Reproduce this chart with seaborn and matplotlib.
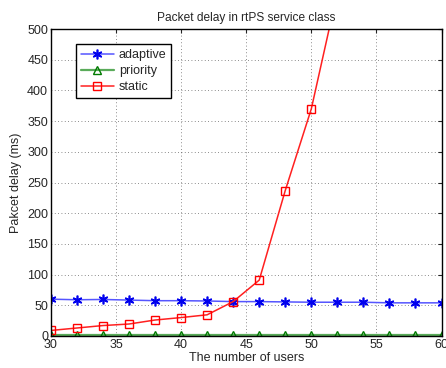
import numpy as np
import pandas as pd
import matplotlib
matplotlib.use("Agg")
import matplotlib.pyplot as plt
import seaborn as sns

# -----------------------------
# Data
# -----------------------------

USERS = [30, 32, 34, 36, 38, 40, 42, 44, 46, 48, 50, 52, 54, 56, 58, 60]
ADAPTIVE = [60, 59, 59.5, 58.5, 57.5, 57.5, 57, 56, 56, 55.5, 55, 55, 55, 54, 54, 54]
PRIORITY = [2, 2, 2, 2, 2, 2, 2, 2, 2, 2, 2, 2, 2, 2, 2, 2]
STATIC_USERS = [30, 32, 34, 36, 38, 40, 42, 44, 46, 48, 50, 52]
STATIC = [9, 13, 17, 19.5, 26, 30, 34.5, 56, 91, 237, 370, 560]

X_TICKS = [30, 35, 40, 45, 50, 55, 60]
Y_TICKS = [0, 50, 100, 150, 200, 250, 300, 350, 400, 450, 500]

sns.set_style("white")
plt.rcParams["font.family"] = ["Liberation Sans", "DejaVu Sans"]

df = pd.concat([
    pd.DataFrame({"users": USERS, "delay": ADAPTIVE, "scheme": "adaptive"}),
    pd.DataFrame({"users": USERS, "delay": PRIORITY, "scheme": "priority"}),
    pd.DataFrame({"users": STATIC_USERS, "delay": STATIC, "scheme": "static"}),
], ignore_index=True)

fig = plt.figure(figsize=(4.46, 3.68), dpi=100)
ax = fig.add_axes([0.114, 0.087, 0.876, 0.834])

styles = {
    "adaptive": dict(line="#5555ff", mark="#0000ee", marker=(6, 2, 0), ms=7, face="#0000ee"),
    "priority": dict(line="#5aab5a", mark="#007a00", marker="^", ms=6, face="none"),
    "static": dict(line="#ff2020", mark="#ff0000", marker="s", ms=5.5, face="none"),
}

for name, st in styles.items():
    sub = df[df["scheme"] == name]
    sns.lineplot(
        data=sub, x="users", y="delay", ax=ax, label=name,
        color=st["line"], linewidth=1.6 if name == "priority" else 1.1,
        marker=st["marker"], markersize=st["ms"], markeredgecolor=st["mark"],
        markerfacecolor=st["face"], markeredgewidth=1.2 if name == "adaptive" else 1.0,
        clip_on=True,
    )

ax.set_xlim(30, 60)
ax.set_ylim(0, 500)
ax.set_xticks(X_TICKS)
ax.set_yticks(Y_TICKS)
ax.tick_params(direction="in", length=3, labelsize=9, width=0.8, pad=2,
               top=True, right=True)
ax.grid(True, linestyle=(0, (1, 3)), color="black", linewidth=0.6, alpha=0.6)
for spine in ax.spines.values():
    spine.set_color("black")
    spine.set_linewidth(1.0)

ax.set_xlabel("The number of users", fontsize=9, labelpad=1)
ax.set_ylabel("Pakcet delay (ms)", fontsize=9, labelpad=4)
ax.set_title("Packet delay in rtPS service class", fontsize=8.6, pad=6)

leg = ax.legend(loc="upper left", bbox_to_anchor=(0.065, 0.95), borderaxespad=0,
                fontsize=9, fancybox=False, framealpha=1, edgecolor="black",
                handlelength=2.6, borderpad=0.4, labelspacing=0.3,
                handletextpad=0.4)
leg.get_frame().set_linewidth(1.0)

fig.savefig("out.png", dpi=100)
